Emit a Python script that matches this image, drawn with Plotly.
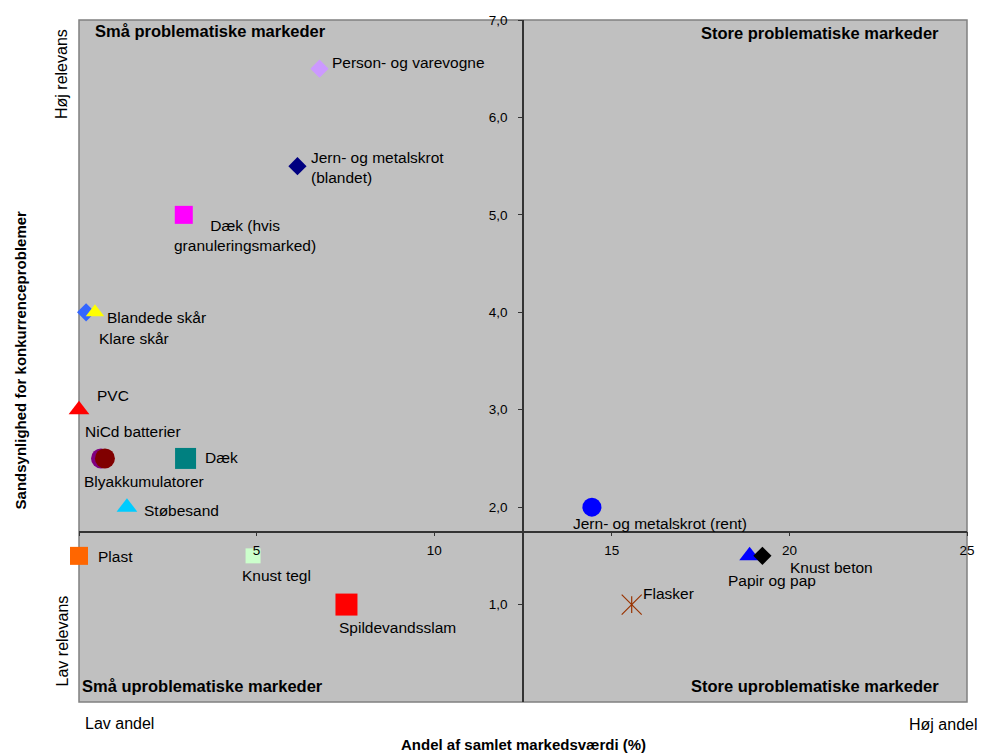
import plotly.graph_objects as go

# Affaldsfraktioner: andel af samlet markedsværdi (%) og sandsynlighed for konkurrenceproblemer
fractions = [
    "Person- og varevogne",
    "Jern- og metalskrot<br>(blandet)",
    "Dæk (hvis<br>granuleringsmarked)",
    "Blandede skår",
    "Klare skår",
    "PVC",
    "NiCd batterier",
    "Blyakkumulatorer",
    "Dæk",
    "Støbesand",
    "Plast",
    "Knust tegl",
    "Spildevandsslam",
    "Jern- og metalskrot (rent)",
    "Flasker",
    "Papir og pap",
    "Knust beton",
]
market_share = [6.77, 6.15, 2.95, 0.2, 0.45, 0.0, 0.62, 0.73, 3.0, 1.35, 0.0, 4.9, 7.53, 14.44, 15.56, 18.88, 19.24]
problem_prob = [6.5, 5.5, 5.0, 4.0, 4.0, 3.0, 2.5, 2.5, 2.5, 2.0, 1.5, 1.5, 1.0, 2.0, 1.0, 1.5, 1.5]

x_ticks = [0, 5, 10, 15, 20, 25]
x_ticktext = ["", "5", "10", "15", "20", "25"]
y_ticks = [1, 2, 3, 4, 5, 6, 7]
y_ticktext = ["1,0", "2,0", "3,0", "4,0", "5,0", "6,0", "7,0"]

quadrants = [
    "Små problematiske markeder",
    "Store problematiske markeder",
    "Små uproblematiske markeder",
    "Store uproblematiske markeder",
]

# Marker style per fraction: (symbol, size, colour)
marker_styles = [
    ("diamond", 14, "#CC99FF"),
    ("diamond", 14, "#000080"),
    ("square", 18, "#FF00FF"),
    ("diamond", 14, "#3366FF"),
    ("triangle-up", 16, "#FFFF00"),
    ("triangle-up", 18, "#FF0000"),
    ("circle", 20, "#800080"),
    ("circle", 20, "#800000"),
    ("square", 21, "#008080"),
    ("triangle-up", 18, "#00CCFF"),
    ("square", 18, "#FF6600"),
    ("square", 15, "#CCFFCC"),
    ("square", 22, "#FF0000"),
    ("circle", 19, "#0000FF"),
    ("x-thin-open", 20, "#993300"),
    ("triangle-up", 18, "#0000FF"),
    ("diamond", 14, "#000000"),
]

# Label placement relative to each marker: (x shift px, y shift px, anchor, align)
label_offsets = [
    (11, 6, "left", "left"),
    (12, -1, "left", "left"),
    (61, -21, "center", "center"),
    (19, -5, "left", "left"),
    (2, -26, "left", "left"),
    (16, 14, "left", "left"),
    (-18, 27, "left", "left"),
    (-23, -23, "left", "left"),
    (17, 1, "left", "left"),
    (15, -3, "left", "left"),
    (17, -1, "left", "left"),
    (-13, -20, "left", "left"),
    (-9, -23, "left", "left"),
    (-21, -16, "left", "left"),
    (9, 11, "left", "left"),
    (-24, -25, "left", "left"),
    (26, -12, "left", "left"),
]

FONT = "Liberation Sans, Arial, sans-serif"
fig = go.Figure()

for name, xv, yv, (sym, size, col) in zip(fractions, market_share, problem_prob, marker_styles):
    if sym == "x-thin-open":
        # Excel-style star: diagonal cross plus a vertical stroke
        for s, sz in (("x-thin-open", size), ("line-ns-open", 12)):
            fig.add_trace(go.Scatter(
                x=[xv], y=[yv], mode="markers", name=name, cliponaxis=False,
                marker=dict(symbol=s, size=sz, line=dict(color=col, width=1.2), color=col),
                showlegend=False, hoverinfo="skip"))
    else:
        fig.add_trace(go.Scatter(
            x=[xv], y=[yv], mode="markers", name=name, cliponaxis=False,
            marker=dict(symbol=sym, size=size, color=col, line=dict(width=0)),
            showlegend=False))

annotations = []
for name, xv, yv, (dx, dy, anc, al) in zip(fractions, market_share, problem_prob, label_offsets):
    annotations.append(dict(
        x=xv, y=yv, xref="x", yref="y", text=name, showarrow=False,
        xshift=dx, yshift=dy, xanchor=anc, yanchor="middle", align=al,
        font=dict(family=FONT, size=15.5, color="#000000")))

# Quadrant captions
quad_pos = [(0.016, 0.984, "left"), (0.971, 0.981, "right"), (0.001, 0.0235, "left"), (0.971, 0.0235, "right")]
for txt, (px, py, anc) in zip(quadrants, quad_pos):
    annotations.append(dict(
        x=px, y=py, xref="paper", yref="paper", text=f"<b>{txt}</b>", showarrow=False,
        xanchor=anc, yanchor="middle", font=dict(family=FONT, size=16.5, color="#000000")))

# Axis captions
annotations += [
    dict(x=0.0045, y=-0.032, xref="paper", yref="paper", text="Lav andel", showarrow=False,
         xanchor="left", yanchor="middle", font=dict(family=FONT, size=16, color="#000")),
    dict(x=1.0135, y=-0.033, xref="paper", yref="paper", text="Høj andel", showarrow=False,
         xanchor="right", yanchor="middle", font=dict(family=FONT, size=16, color="#000")),
    dict(x=0.501, y=-0.063, xref="paper", yref="paper", text="<b>Andel af samlet markedsværdi (%)</b>",
         showarrow=False, xanchor="center", yanchor="middle", font=dict(family=FONT, size=15, color="#000")),
    dict(x=-0.0663, y=0.501, xref="paper", yref="paper", text="<b>Sandsynlighed for konkurrenceproblemer</b>",
         showarrow=False, textangle=-90, xanchor="center", yanchor="middle",
         font=dict(family=FONT, size=15, color="#000")),
    dict(x=-0.019, y=0.921, xref="paper", yref="paper", text="Høj relevans", showarrow=False,
         textangle=-90, xanchor="center", yanchor="middle", font=dict(family=FONT, size=16, color="#000")),
    dict(x=-0.019, y=0.089, xref="paper", yref="paper", text="Lav relevans", showarrow=False,
         textangle=-90, xanchor="center", yanchor="middle", font=dict(family=FONT, size=16, color="#000")),
]

fig.update_layout(
    width=987, height=754,
    margin=dict(l=79, r=18, t=20, b=52),
    paper_bgcolor="#FFFFFF", plot_bgcolor="#C0C0C0",
    font=dict(family=FONT, size=13, color="#000"),
    showlegend=False,
    annotations=annotations,
    shapes=[dict(type="rect", xref="paper", yref="paper", x0=0, x1=1, y0=0, y1=1,
                 line=dict(color="#808080", width=1.5), fillcolor="rgba(0,0,0,0)", layer="below")],
    xaxis=dict(range=[0, 25], anchor="free", position=1.75 / 7, showgrid=False, zeroline=False,
               showline=True, linecolor="#333333", linewidth=1.5, ticks="outside", ticklen=4,
               tickcolor="#333333", tickvals=x_ticks, ticktext=x_ticktext, ticklabelstandoff=3,
               tickfont=dict(family=FONT, size=13.5, color="#000")),
    yaxis=dict(range=[0, 7], anchor="free", position=12.5 / 25, showgrid=False, zeroline=False,
               showline=True, linecolor="#333333", linewidth=1.5, ticks="outside", ticklen=4,
               tickcolor="#333333", tickvals=y_ticks, ticktext=y_ticktext, ticklabelstandoff=8,
               tickfont=dict(family=FONT, size=13.5, color="#000")),
)

fig.write_html("out.html")
